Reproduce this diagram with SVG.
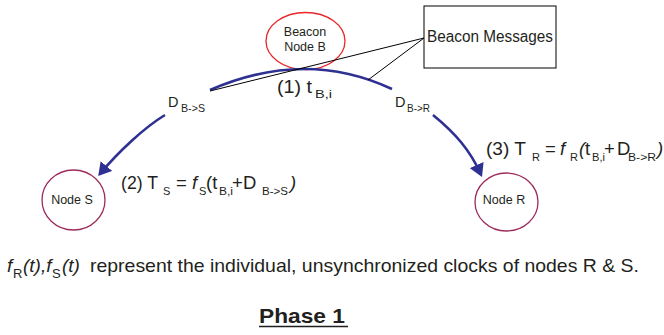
<svg xmlns="http://www.w3.org/2000/svg" width="664" height="335" viewBox="0 0 664 335">
<style>
text{font-family:"Liberation Sans",Arial,sans-serif;fill:#231f20}
.it{font-style:italic}
.sb{font-size:11px}
.sb2{font-size:10.5px}
.blue{fill:none;stroke:#2e3192;stroke-width:2.6}
.blk{stroke:#000;stroke-width:1;fill:none}
.node{fill:#fff;stroke-width:1.3}
</style>
<defs>
<marker id="ah" markerUnits="userSpaceOnUse" viewBox="0 0 13 15" markerWidth="13" markerHeight="15" refX="10" refY="7.5" orient="auto">
<path d="M0,0 L13,7.5 L0,15 z" fill="#2e3192"/>
</marker>
</defs>
<rect width="664" height="335" fill="#fff"/>
<g id="nodeB">
<ellipse cx="305.5" cy="41" rx="39.5" ry="28.5" class="node" stroke="#e8262b"/>
<text x="305" y="36" font-size="12.5" text-anchor="middle">Beacon</text>
<text x="305" y="51" font-size="12.5" text-anchor="middle">Node B</text>
</g>
<g id="beaconMessages">
<rect x="424" y="6" width="132" height="62" fill="#fff" stroke="#000" stroke-width="1"/>
<text x="427" y="42" font-size="16" textLength="126" lengthAdjust="spacingAndGlyphs">Beacon Messages</text>
</g>
<g id="nodeS">
<ellipse cx="73.5" cy="200" rx="31.5" ry="30" class="node" stroke="#9c2a5c"/>
<text x="72" y="204" font-size="12.5" text-anchor="middle">Node S</text>
</g>
<g id="nodeR">
<ellipse cx="506.5" cy="202" rx="31.5" ry="29" class="node" stroke="#9c2a5c"/>
<text x="504" y="204" font-size="12.5" text-anchor="middle">Node R</text>
</g>
<g id="connectors">
<path class="blue" d="M210,90 Q305,48.5 392,89"/>
<path class="blue" d="M165,115 C145,127 118,152 100.1,173.8" marker-end="url(#ah)"/>
<path class="blue" d="M433,115 C455,133 470,150 480.8,174.2" marker-end="url(#ah)"/>
<path class="blk" d="M424,38 L210,91"/>
<path class="blk" d="M424,38 L368,80"/>
</g>
<g id="labels">
<text font-size="18.5"><tspan x="277" y="93" textLength="35" lengthAdjust="spacingAndGlyphs">(1) t</tspan><tspan x="315" y="98" class="sb" textLength="17" lengthAdjust="spacingAndGlyphs">B,i</tspan></text>
<text font-size="14.5"><tspan x="168" y="107">D</tspan><tspan x="181" y="112" class="sb2" textLength="24" lengthAdjust="spacingAndGlyphs">B-&gt;S</tspan></text>
<text font-size="14.5"><tspan x="395" y="107">D</tspan><tspan x="407" y="112" class="sb2" textLength="23" lengthAdjust="spacingAndGlyphs">B-&gt;R</tspan></text>
<text font-size="18.5"><tspan x="121" y="189" textLength="37" lengthAdjust="spacingAndGlyphs">(2) T</tspan><tspan x="163" y="195" class="sb">S</tspan><tspan x="176" y="189">=</tspan><tspan x="192" y="189" class="it">f</tspan><tspan x="199" y="195" class="sb">S</tspan><tspan x="206" y="189">(t</tspan><tspan x="219" y="195" class="sb" textLength="14" lengthAdjust="spacingAndGlyphs">B,i</tspan><tspan x="232" y="189">+</tspan><tspan x="243" y="189">D</tspan><tspan x="262" y="195" class="sb2" textLength="26" lengthAdjust="spacingAndGlyphs">B-&gt;S</tspan><tspan x="290" y="189" class="it">)</tspan></text>
<text font-size="18.5"><tspan x="486" y="155" textLength="40" lengthAdjust="spacingAndGlyphs">(3) T</tspan><tspan x="532" y="161" class="sb">R</tspan><tspan x="545" y="155">=</tspan><tspan x="560" y="155" class="it">f</tspan><tspan x="570" y="161" class="sb">R</tspan><tspan x="579" y="155" class="it">(</tspan><tspan x="585" y="155">t</tspan><tspan x="592" y="161" class="sb" textLength="13" lengthAdjust="spacingAndGlyphs">B,i</tspan><tspan x="604" y="155">+</tspan><tspan x="617" y="155">D</tspan><tspan x="628" y="161" class="sb2" textLength="28" lengthAdjust="spacingAndGlyphs">B-&gt;R</tspan><tspan x="657" y="155" class="it">)</tspan></text>
<text font-size="19"><tspan x="7" y="272" class="it">f</tspan><tspan x="13" y="278" font-size="13">R</tspan><tspan x="23" y="272" class="it">(t),f</tspan><tspan x="52" y="278" font-size="13">S</tspan><tspan x="62" y="272" class="it">(t)</tspan><tspan x="90" y="272" textLength="549" lengthAdjust="spacingAndGlyphs">represent the individual, unsynchronized clocks of nodes R &amp; S.</tspan></text>
<text x="259" y="323" font-size="21" font-weight="bold" textLength="86" lengthAdjust="spacingAndGlyphs">Phase 1</text>
<line x1="259" y1="326.5" x2="348" y2="326.5" stroke="#231f20" stroke-width="1.5"/>
</g>
</svg>
